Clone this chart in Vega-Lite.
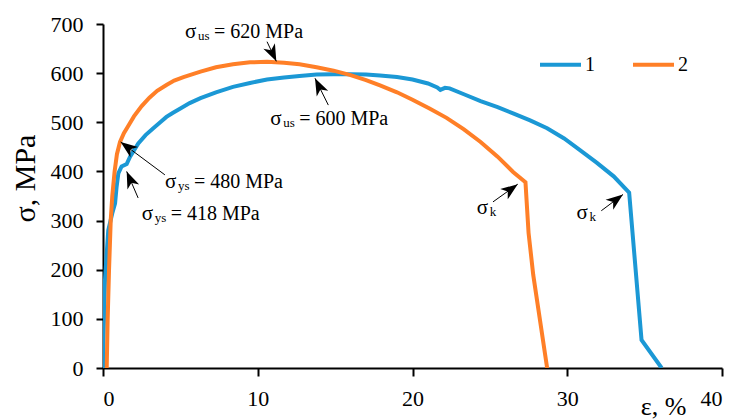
{
  "$schema": "https://vega.github.io/schema/vega-lite/v6.json",
  "autosize": {"type": "none"},
  "width": 619,
  "height": 344,
  "padding": {"left": 103, "top": 24, "right": 13, "bottom": 51},
  "background": "white",
  "config": {
    "view": {"stroke": null},
    "font": "Liberation Serif",
    "axis": {
      "domainColor": "black", "domainWidth": 2, "tickColor": "black", "tickWidth": 2,
      "labelColor": "black", "labelFont": "Liberation Serif", "labelFontSize": 22,
      "titleColor": "black", "titleFont": "Liberation Serif", "titleFontWeight": "normal", "grid": false
    }
  },
  "datasets": {
    "curves": [
      {"series": "1", "strain": 0.0, "stress": 0},
      {"series": "1", "strain": 0.03, "stress": 60},
      {"series": "1", "strain": 0.13, "stress": 180},
      {"series": "1", "strain": 0.34, "stress": 280},
      {"series": "1", "strain": 0.6, "stress": 315},
      {"series": "1", "strain": 0.78, "stress": 335},
      {"series": "1", "strain": 0.88, "stress": 369},
      {"series": "1", "strain": 0.99, "stress": 396},
      {"series": "1", "strain": 1.2, "stress": 410},
      {"series": "1", "strain": 1.53, "stress": 415},
      {"series": "1", "strain": 1.75, "stress": 430},
      {"series": "1", "strain": 2.28, "stress": 457},
      {"series": "1", "strain": 2.75, "stress": 474},
      {"series": "1", "strain": 3.25, "stress": 488},
      {"series": "1", "strain": 3.7, "stress": 500},
      {"series": "1", "strain": 4.1, "stress": 511},
      {"series": "1", "strain": 4.5, "stress": 519},
      {"series": "1", "strain": 5.0, "stress": 528},
      {"series": "1", "strain": 5.6, "stress": 539},
      {"series": "1", "strain": 6.3, "stress": 549},
      {"series": "1", "strain": 7.3, "stress": 561},
      {"series": "1", "strain": 8.4, "stress": 572},
      {"series": "1", "strain": 9.5, "stress": 580},
      {"series": "1", "strain": 10.6, "stress": 587},
      {"series": "1", "strain": 11.7, "stress": 591},
      {"series": "1", "strain": 12.7, "stress": 594},
      {"series": "1", "strain": 13.8, "stress": 597},
      {"series": "1", "strain": 14.9, "stress": 598},
      {"series": "1", "strain": 16.0, "stress": 598},
      {"series": "1", "strain": 17.0, "stress": 597},
      {"series": "1", "strain": 17.9, "stress": 595},
      {"series": "1", "strain": 19.0, "stress": 592},
      {"series": "1", "strain": 20.0, "stress": 587},
      {"series": "1", "strain": 21.0, "stress": 579},
      {"series": "1", "strain": 21.6, "stress": 571},
      {"series": "1", "strain": 21.8, "stress": 566},
      {"series": "1", "strain": 22.1, "stress": 570},
      {"series": "1", "strain": 22.4, "stress": 569},
      {"series": "1", "strain": 23.4, "stress": 556},
      {"series": "1", "strain": 24.4, "stress": 543},
      {"series": "1", "strain": 25.5, "stress": 531},
      {"series": "1", "strain": 26.5, "stress": 518},
      {"series": "1", "strain": 27.6, "stress": 504},
      {"series": "1", "strain": 28.7, "stress": 488},
      {"series": "1", "strain": 29.8, "stress": 467},
      {"series": "1", "strain": 30.8, "stress": 444},
      {"series": "1", "strain": 31.9, "stress": 418},
      {"series": "1", "strain": 33.0, "stress": 390},
      {"series": "1", "strain": 34.0, "stress": 357},
      {"series": "1", "strain": 34.8, "stress": 57},
      {"series": "1", "strain": 36.1, "stress": 0},
      {"series": "2", "strain": 0.24, "stress": 0},
      {"series": "2", "strain": 0.3, "stress": 98},
      {"series": "2", "strain": 0.39, "stress": 200},
      {"series": "2", "strain": 0.5, "stress": 301},
      {"series": "2", "strain": 0.6, "stress": 350},
      {"series": "2", "strain": 0.75, "stress": 400},
      {"series": "2", "strain": 0.9, "stress": 435},
      {"series": "2", "strain": 1.1, "stress": 460},
      {"series": "2", "strain": 1.35, "stress": 478},
      {"series": "2", "strain": 1.64, "stress": 493},
      {"series": "2", "strain": 2.0, "stress": 512},
      {"series": "2", "strain": 2.5, "stress": 533},
      {"series": "2", "strain": 3.0, "stress": 550},
      {"series": "2", "strain": 3.5, "stress": 564},
      {"series": "2", "strain": 4.1, "stress": 576},
      {"series": "2", "strain": 4.6, "stress": 585},
      {"series": "2", "strain": 5.2, "stress": 592},
      {"series": "2", "strain": 6.3, "stress": 603},
      {"series": "2", "strain": 7.3, "stress": 612},
      {"series": "2", "strain": 8.4, "stress": 618},
      {"series": "2", "strain": 9.5, "stress": 622},
      {"series": "2", "strain": 10.6, "stress": 623},
      {"series": "2", "strain": 11.7, "stress": 621},
      {"series": "2", "strain": 12.7, "stress": 618},
      {"series": "2", "strain": 13.8, "stress": 612},
      {"series": "2", "strain": 14.9, "stress": 605},
      {"series": "2", "strain": 16.0, "stress": 596},
      {"series": "2", "strain": 17.0, "stress": 586},
      {"series": "2", "strain": 17.9, "stress": 575},
      {"series": "2", "strain": 19.0, "stress": 561},
      {"series": "2", "strain": 20.0, "stress": 546},
      {"series": "2", "strain": 21.1, "stress": 528},
      {"series": "2", "strain": 22.2, "stress": 509},
      {"series": "2", "strain": 23.3, "stress": 486},
      {"series": "2", "strain": 24.4, "stress": 460},
      {"series": "2", "strain": 25.5, "stress": 430},
      {"series": "2", "strain": 26.5, "stress": 399},
      {"series": "2", "strain": 27.3, "stress": 378},
      {"series": "2", "strain": 27.5, "stress": 275},
      {"series": "2", "strain": 27.8, "stress": 190},
      {"series": "2", "strain": 28.7, "stress": 0}
    ],
    "notes": [
      {"x": 5.3, "y": 671, "sub": "us", "rest": "= 620 MPa"},
      {"x": 10.8, "y": 494, "sub": "us", "rest": "= 600 MPa"},
      {"x": 4.0, "y": 366, "sub": "ys", "rest": "= 480 MPa"},
      {"x": 2.5, "y": 301, "sub": "ys", "rest": "= 418 MPa"},
      {"x": 24.15, "y": 314, "sub": "k", "rest": ""},
      {"x": 30.6, "y": 303, "sub": "k", "rest": ""}
    ],
    "arrows": [
      {"x1": 10.6, "y1": 664, "x2": 11.2, "y2": 624, "angle": 155},
      {"x1": 14.56, "y1": 535, "x2": 13.7, "y2": 589.5, "angle": -26},
      {"x1": 4.0, "y1": 393, "x2": 1.14, "y2": 460, "angle": -53},
      {"x1": 2.27, "y1": 346, "x2": 1.53, "y2": 400, "angle": -23},
      {"x1": 25.2, "y1": 338, "x2": 26.8, "y2": 374, "angle": 54},
      {"x1": 32.2, "y1": 320, "x2": 33.6, "y2": 353, "angle": 53}
    ]
  },
  "layer": [
    {
      "data": {"name": "curves"},
      "mark": {"type": "line", "strokeWidth": 4, "clip": true},
      "encoding": {
        "x": {"field": "strain", "type": "quantitative",
          "scale": {"domain": [0, 40], "nice": false},
          "axis": {"values": [0, 10, 20, 30, 40], "tickSize": 8, "labelPadding": 12,
            "title": "ε, %", "titleFontSize": 26, "titleX": 560, "titleY": 46,
            "titleAlign": "center", "titleBaseline": "alphabetic", "titleAnchor": null}},
        "y": {"field": "stress", "type": "quantitative",
          "scale": {"domain": [0, 700], "nice": false},
          "axis": {"values": [0, 100, 200, 300, 400, 500, 600, 700], "tickSize": 7, "labelPadding": 13,
            "title": "σ, MPa", "titleFontSize": 30, "titleX": -78, "titleY": 154, "titleAngle": -90,
            "titleAlign": "center", "titleBaseline": "middle", "titleAnchor": null}},
        "color": {"field": "series", "type": "nominal",
          "scale": {"domain": ["1", "2"], "range": ["#1B98D5", "#FF7F27"]},
          "legend": {"title": null, "orient": "none", "legendX": 435, "legendY": 18,
            "direction": "horizontal", "symbolType": "stroke", "symbolSize": 1681,
            "symbolStrokeWidth": 4, "labelFont": "Liberation Serif", "labelFontSize": 20,
            "labelColor": "black", "labelOffset": 2, "columnPadding": 30, "padding": 0}}
      }
    },
    {
      "data": {"name": "arrows"},
      "mark": {"type": "rule", "color": "black", "strokeWidth": 1},
      "encoding": {
        "x": {"field": "x1", "type": "quantitative"},
        "y": {"field": "y1", "type": "quantitative"},
        "x2": {"field": "x2"},
        "y2": {"field": "y2"}
      }
    },
    {
      "data": {"name": "arrows"},
      "mark": {"type": "point", "shape": "M0,0 L0.75,2 L0,1.45 L-0.75,2 Z", "filled": true, "color": "black", "opacity": 1, "size": 289},
      "encoding": {
        "x": {"field": "x2", "type": "quantitative"},
        "y": {"field": "y2", "type": "quantitative"},
        "angle": {"field": "angle", "type": "quantitative", "scale": null}
      }
    },
    {
      "data": {"name": "notes"},
      "mark": {"type": "text", "text": "σ", "font": "Liberation Serif", "fontSize": 21, "align": "left", "baseline": "alphabetic", "color": "black"},
      "encoding": {
        "x": {"field": "x", "type": "quantitative"},
        "y": {"field": "y", "type": "quantitative"}
      }
    },
    {
      "data": {"name": "notes"},
      "mark": {"type": "text", "font": "Liberation Serif", "fontSize": 13, "align": "left", "baseline": "alphabetic", "dx": 13, "dy": 2, "color": "black"},
      "encoding": {
        "x": {"field": "x", "type": "quantitative"},
        "y": {"field": "y", "type": "quantitative"},
        "text": {"field": "sub"}
      }
    },
    {
      "data": {"name": "notes"},
      "mark": {"type": "text", "font": "Liberation Serif", "fontSize": 20, "align": "left", "baseline": "alphabetic", "dx": 29, "color": "black"},
      "encoding": {
        "x": {"field": "x", "type": "quantitative"},
        "y": {"field": "y", "type": "quantitative"},
        "text": {"field": "rest"}
      }
    }
  ]
}
